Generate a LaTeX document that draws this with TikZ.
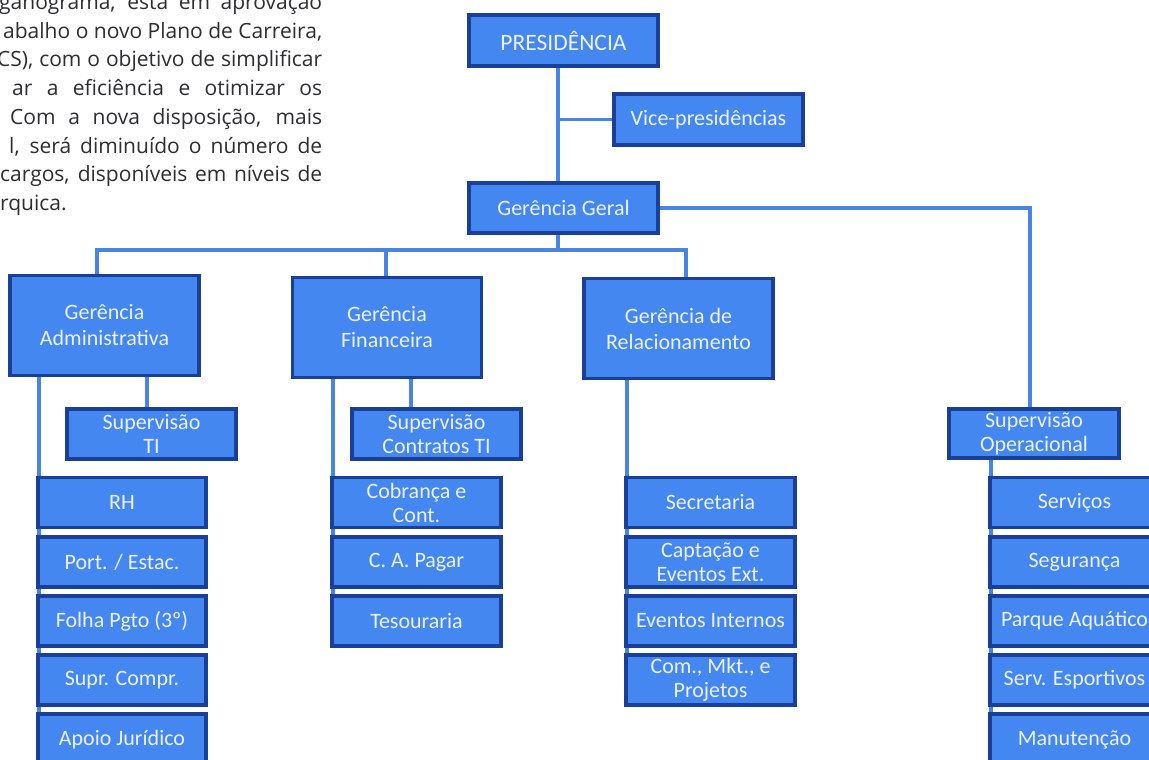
\documentclass[tikz,border=0pt]{standalone}
\usepackage{fontspec}
\setmainfont{Carlito}
\newfontfamily\parafont{Open Sans}
\definecolor{boxfill}{RGB}{68,135,240}
\definecolor{boxborder}{RGB}{25,64,150}
\definecolor{linecol}{RGB}{72,132,230}
\definecolor{boxtext}{RGB}{236,242,255}
\definecolor{paratext}{RGB}{45,45,50}
\pgfdeclarelayer{bg}
\pgfdeclarelayer{paper}
\pgfsetlayers{paper,bg,main}
\tikzset{
  box/.style={draw=boxborder, fill=boxfill, line width=3.2pt, inner sep=0pt,
    text=boxtext, align=center, font=\fontsize{22}{26}\selectfont},
  topbox/.style={box, minimum width=189pt, minimum height=51pt},
  mgrbox/.style={box, minimum width=189pt, minimum height=100pt},
  supbox/.style={box, minimum width=169pt, minimum height=50pt, font=\fontsize{22}{24}\selectfont},
  subbox/.style={box, minimum width=169pt, minimum height=50pt, font=\fontsize{22}{24}\selectfont},
  conn/.style={draw=linecol, line width=3.4pt},
  para/.style={anchor=base west, inner sep=0pt, text=paratext, font=\parafont\fontsize{21}{28}\selectfont},
}
\begin{document}
\begin{tikzpicture}[x=1pt,y=-1pt]
\begin{pgfonlayer}{paper}
\fill[white] (0,0) rectangle (1149,760);
\end{pgfonlayer}
\useasboundingbox (0,0) rectangle (1149,760);

% paragraph (cut off at the left)
\node[para] (p1) at (-1,9.5)   {\makebox[323pt][s]{ganograma, está em aprovação}};
\node[para] (p2) at (3,38.2)   {\makebox[319pt][s]{abalho o novo Plano de Carreira,}};
\node[para] (p3) at (-3,66.9)  {\makebox[325pt][s]{CS), com o objetivo de simplificar}};
\node[para] (p4) at (12,95.6)  {\makebox[310pt][s]{ar a eficiência e otimizar os}};
\node[para] (p5) at (10,124.3) {\makebox[312pt][s]{Com a nova disposição, mais}};
\node[para] (p6) at (9,153)    {\makebox[313pt][s]{l, será diminuído o número de}};
\node[para] (p7) at (0,181.7)  {\makebox[322pt][s]{cargos, disponíveis em níveis de}};
\node[para] (p8) at (0,210.4)  {rquica.};

% top
\node[topbox, font=\fontsize{23.5}{26}\selectfont] (pres) at (563.5,40.5) {PRESIDÊNCIA};
\node[topbox] (vice) at (708.5,119.5) {Vice-presidências};
\node[topbox, minimum height=50pt] (gg) at (563.5,208) {Gerência Geral};

% managers
\node[mgrbox] (adm) at (104.5,325.5) {Gerência\\Administrativa};
\node[mgrbox] (fin) at (387,327.5) {Gerência\\Financeira};
\node[mgrbox] (rel) at (678.5,328.5) {Gerência de\\Relacionamento};

% supervisions
\node[supbox] (supti) at (151.5,434) {Supervisão\\TI};
\node[supbox] (supct) at (436.5,434) {Supervisão\\Contratos TI};
\node[supbox, minimum width=170pt, minimum height=49pt] (supop) at (1034,433.5) {Supervisão\\Operacional};

% admin column
\node[subbox, minimum width=168pt] (rh) at (122,502.5) {RH};
\node[subbox, minimum width=168pt] (port) at (122,562) {Port. / Estac.};
\node[subbox, minimum width=168pt] (folha) at (122,621) {Folha Pgto (3º)};
\node[subbox, minimum width=168pt] (supr) at (122,680) {Supr. Compr.};
\node[subbox, minimum width=168pt, minimum height=51pt] (apoio) at (122,739.5) {Apoio Jurídico};

% finance column
\node[subbox] (cob) at (416.5,502.5) {Cobrança e\\Cont.};
\node[subbox] (cap) at (416.5,562) {C. A. Pagar};
\node[subbox] (tes) at (416.5,621) {Tesouraria};

% relations column
\node[subbox] (sec) at (710.5,502.5) {Secretaria};
\node[subbox] (capt) at (710.5,562) {Captação e\\Eventos Ext.};
\node[subbox] (evi) at (710.5,621) {Eventos Internos};
\node[subbox] (com) at (710.5,680) {Com., Mkt., e\\Projetos};

% operational column
\node[subbox] (serv) at (1074.5,502.5) {Serviços};
\node[subbox] (seg) at (1074.5,562) {Segurança};
\node[subbox] (parq) at (1074.5,621) {Parque Aquático};
\node[subbox] (esp) at (1074.5,680) {Serv. Esportivos};
\node[subbox, minimum height=51pt] (man) at (1074.5,739.5) {Manutenção};

\begin{pgfonlayer}{bg}
\coordinate (bus) at (558,250);
\coordinate (admend) at (39,762);
\coordinate (opend) at (991,762);
\draw[conn] ([xshift=-5.5pt]pres.south) -- ([xshift=-5.5pt]gg.north);
\draw[conn] (vice.west) -- (vice.west -| bus);
\draw[conn] ([xshift=-5.5pt]gg.south) -- (bus);
\draw[conn] ([xshift=-7.5pt]adm.north) |- (bus) -| ([xshift=7.5pt]rel.north);
\draw[conn] ([xshift=-1pt]fin.north) -- ([xshift=-1pt]fin.north |- bus);
\draw[conn] (gg.east) -| ([xshift=-4pt]supop.north);
\draw[conn] ([xshift=42.5pt]adm.south) -- ([xshift=42.5pt]adm.south |- supti.north);
\draw[conn] ([xshift=24pt]fin.south) -- ([xshift=24pt]fin.south |- supct.north);
\draw[conn] ([xshift=-65.5pt]adm.south) -- (admend);
\draw[conn] ([xshift=-54pt]fin.south) -- ([xshift=-54pt]fin.south |- tes.south);
\draw[conn] ([xshift=-51.5pt]rel.south) -- ([xshift=-51.5pt]rel.south |- com.south);
\draw[conn] ([xshift=-43pt]supop.south) -- (opend);
\end{pgfonlayer}
\end{tikzpicture}
\end{document}
